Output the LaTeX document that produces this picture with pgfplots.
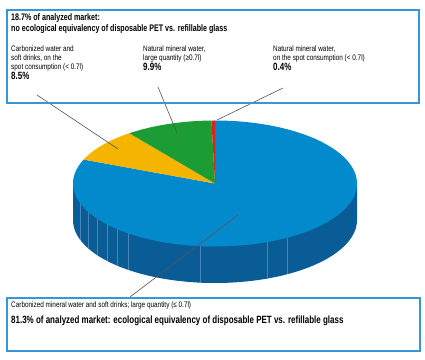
\documentclass[border=0pt]{standalone}
\usepackage{pgfplots}
\pgfplotsset{compat=1.18}
\usepackage{pgfplotstable}
\usepackage{fontspec}
\setmainfont{Liberation Sans}
\newfontfamily\cf{Liberation Sans}[FakeStretch=0.8]
\newfontfamily\cft{Liberation Sans}[FakeStretch=0.75]
\newfontfamily\cfb{Liberation Sans}[FakeStretch=0.76]
\definecolor{pblue}{RGB}{2,138,204}
\definecolor{pside}{RGB}{10,92,150}
\definecolor{pgreen}{RGB}{28,156,52}
\definecolor{porange}{RGB}{245,180,0}
\definecolor{pred}{RGB}{217,38,28}
\definecolor{boxblue}{RGB}{55,150,214}
\definecolor{lead}{RGB}{85,85,85}
\definecolor{tex}{RGB}{80,130,180}
\pgfplotstableread{
label share
red 0.4
green 9.9
orange 8.5
blue 81.3
}\piedata
\begin{document}%
\begin{tikzpicture}
\pgfplotstablegetelem{0}{share}\of\piedata \let\sRed\pgfplotsretval
\pgfplotstablegetelem{1}{share}\of\piedata \let\sGreen\pgfplotsretval
\pgfplotstablegetelem{2}{share}\of\piedata \let\sOrange\pgfplotsretval
\pgfplotstablegetelem{3}{share}\of\piedata \let\sBlue\pgfplotsretval
\pgfmathsetmacro\aA{90}
\pgfmathsetmacro\aB{\aA+3.6*\sRed}
\pgfmathsetmacro\aC{\aB+3.6*\sGreen}
\pgfmathsetmacro\aD{\aC+3.6*\sOrange}
\pgfmathsetmacro\aE{\aD+3.6*\sBlue}
\begin{axis}[width=425pt, height=359pt, scale only axis,
  xmin=0, xmax=425, ymin=0, ymax=359, y dir=reverse,
  hide axis, clip=false]
\path[fill=white] (axis cs:0,0) rectangle (axis cs:425,359);
% side of the pie
\addplot[fill=pside, draw=none, domain=180:360, samples=90, variable=\t]
  ({215+142*cos(\t)}, {220-63*sin(\t)}) -- (axis cs:357,183.5) -- (axis cs:73,183.5) -- cycle;
% faint texture lines on side
\addplot[tex, line width=0.5pt] coordinates {(80,203) (80,239.5)};
\addplot[tex, line width=0.5pt] coordinates {(88,211.7) (88,248.2)};
\addplot[tex, line width=0.5pt] coordinates {(97,218.6) (97,255.1)};
\addplot[tex, line width=0.5pt] coordinates {(107,224.4) (107,260.9)};
\addplot[tex, line width=0.5pt] coordinates {(117,229.1) (117,265.6)};
\addplot[tex, line width=0.5pt] coordinates {(128,233.3) (128,269.8)};
\addplot[tex, line width=0.5pt] coordinates {(200,246.1) (200,282.6)};
\addplot[tex, line width=0.5pt] coordinates {(267,242.1) (267,278.6)};
\addplot[tex, line width=0.5pt] coordinates {(287,237.8) (287,274.3)};
% top slices
\addplot[fill=pblue, draw=none, domain=\aD:\aE, samples=150, variable=\t]
  ({215+142*cos(\t)}, {183.5-63*sin(\t)}) -- (axis cs:215,183.5) -- cycle;
\addplot[fill=porange, draw=none, domain=\aC:\aD, samples=30, variable=\t]
  ({215+142*cos(\t)}, {183.5-63*sin(\t)}) -- (axis cs:215,183.5) -- cycle;
\addplot[fill=pgreen, draw=none, domain=\aB:\aC, samples=30, variable=\t]
  ({215+142*cos(\t)}, {183.5-63*sin(\t)}) -- (axis cs:215,183.5) -- cycle;
\addplot[fill=pred, draw=none, domain=\aA:\aB, samples=5, variable=\t]
  ({215+142*cos(\t)}, {183.5-63*sin(\t)}) -- (axis cs:215,183.5) -- cycle;
% leader lines
\draw[lead, line width=0.6pt] (axis cs:37,95) -- (axis cs:118,149);
\draw[lead, line width=0.6pt] (axis cs:158,87) -- (axis cs:177,133);
\draw[lead, line width=0.6pt] (axis cs:283,88) -- (axis cs:217,120);
\draw[lead, line width=0.6pt] (axis cs:238,215) -- (axis cs:130,297);
% boxes
\draw[boxblue, line width=1.7pt] (axis cs:7,10) rectangle (axis cs:419,103);
\draw[boxblue, line width=1.7pt] (axis cs:7,298) rectangle (axis cs:420,351);
% top texts
\node[anchor=base west, inner sep=0] at (axis cs:11,20) {\cft\bfseries\fontsize{9.5}{11}\selectfont 18.7\% of analyzed market:};
\node[anchor=base west, inner sep=0] at (axis cs:11,31) {\cft\bfseries\fontsize{9.5}{11}\selectfont no ecological equivalency of disposable PET vs. refillable glass};
\node[anchor=base west, inner sep=0] at (axis cs:11,51) {\cf\fontsize{8}{9}\selectfont Carbonized water and};
\node[anchor=base west, inner sep=0] at (axis cs:11,60) {\cf\fontsize{8}{9}\selectfont soft drinks, on the};
\node[anchor=base west, inner sep=0] at (axis cs:11,69) {\cf\fontsize{8}{9}\selectfont spot consumption (< 0.7l)};
\node[anchor=base west, inner sep=0] at (axis cs:11,79) {\cfb\bfseries\fontsize{10.5}{12}\selectfont 8.5\%};
\node[anchor=base west, inner sep=0] at (axis cs:143,51) {\cf\fontsize{8}{9}\selectfont Natural mineral water,};
\node[anchor=base west, inner sep=0] at (axis cs:143,60) {\cf\fontsize{8}{9}\selectfont large quantity (≥0.7l)};
\node[anchor=base west, inner sep=0] at (axis cs:143,70) {\cfb\bfseries\fontsize{10.5}{12}\selectfont 9.9\%};
\node[anchor=base west, inner sep=0] at (axis cs:273,51) {\cf\fontsize{8}{9}\selectfont Natural mineral water,};
\node[anchor=base west, inner sep=0] at (axis cs:273,60) {\cf\fontsize{8}{9}\selectfont on the spot consumption (< 0.7l)};
\node[anchor=base west, inner sep=0] at (axis cs:273,70) {\cfb\bfseries\fontsize{10.5}{12}\selectfont 0.4\%};
% bottom texts
\node[anchor=base west, inner sep=0] at (axis cs:11,307) {\cf\fontsize{8}{9}\selectfont Carbonized mineral water and soft drinks; large quantity (≤ 0.7l)};
\node[anchor=base west, inner sep=0] at (axis cs:11,323) {\cfb\bfseries\fontsize{10.5}{12}\selectfont 81.3\% of analyzed market: ecological equivalency of disposable PET vs. refillable glass};
\end{axis}
\end{tikzpicture}%
\end{document}
